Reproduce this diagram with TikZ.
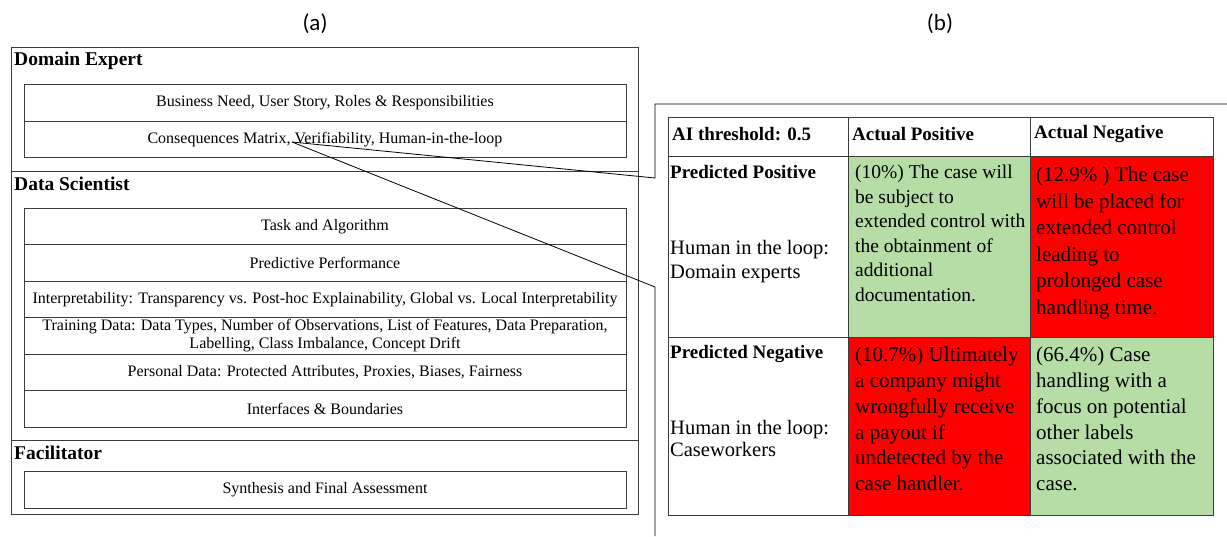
\documentclass[tikz,border=0pt]{standalone}
\usepackage{fontspec}
\setmainfont{Liberation Serif}
\newfontfamily\panelfont{Carlito}
\usetikzlibrary{positioning}
\definecolor{okgreen}{RGB}{182,221,165}
\definecolor{badred}{RGB}{255,0,0}
\definecolor{rule}{RGB}{60,60,60}

\begin{document}
\begin{tikzpicture}[
        x=1pt, y=-1pt,
        frame/.style={draw=rule, line width=1pt},
        row/.style={draw=rule, line width=1pt, minimum width=602pt, minimum height=36.5pt,
            inner sep=0pt, outer sep=0pt, align=center, font=\fontsize{16}{17}\selectfont},
        role/.style={anchor=west, inner sep=0pt, font=\fontsize{19.5}{22}\selectfont\bfseries},
        panel/.style={inner sep=0pt, font=\panelfont\fontsize{23}{26}\selectfont},
        head/.style={anchor=west, inner sep=0pt, font=\fontsize{19}{22}\selectfont\bfseries},
        cell/.style={anchor=north west, inner sep=0pt, align=left},
        zoomline/.style={draw=black, line width=0.8pt},
    ]
    \useasboundingbox (0,0) rectangle (1227,536);
    % panel titles
    \node[panel] (pa) at (315,24) {(a)};
    \node[panel] (pb) at (940,24) {(b)};

    % (a) roles and their topics
    \draw[frame] (11,47) rectangle (638,514);
    \draw[frame] (11,171) -- (638,171);
    \draw[frame] (11,440) -- (638,440);
    \node[role] (expert) at (14,61) {Domain Expert};
    \node[role] (scientist) at (14,184) {Data Scientist};
    \node[role] (facil) at (14,453) {Facilitator};

    \node[row] (need) at (325,103) {Business Need, User Story, Roles \& Responsibilities};
    \node[row, below=0pt of need] (matrix) {Consequences Matrix, Verifiability, Human-in-the-loop};

    \node[row] (task) at (325,226.5) {Task and Algorithm};
    \node[row, below=0pt of task] (perf) {Predictive Performance};
    \node[row, below=0pt of perf] (interp) {Interpretability: Transparency vs. Post-hoc Explainability, Global vs. Local Interpretability};
    \node[row, below=0pt of interp, font=\fontsize{16}{18}\selectfont] (train) {Training Data: Data Types, Number of Observations, List of Features, Data Preparation,\\Labelling, Class Imbalance, Concept Drift};
    \node[row, below=0pt of train] (personal) {Personal Data: Protected Attributes, Proxies, Biases, Fairness};
    \node[row, below=0pt of personal] (iface) {Interfaces \& Boundaries};

    \node[row] (synth) at (325,490) {Synthesis and Final Assessment};

    % callout from the matrix row
    \coordinate (src) at (292,142);
    \coordinate (zt) at (655,178);
    \coordinate (zb) at (655,287);
    \coordinate (ztop) at (655,104);
    \coordinate (zright) at (1227,104);
    \coordinate (zbot) at (655,536);
    \draw[zoomline] (src) -- (zt) -- (ztop) -- (zright);
    \draw[zoomline] (src) -- (zb) -- (zbot);

    % (b) consequences matrix
    \fill[okgreen] (848,156) rectangle (1030,337);
    \fill[badred] (1030,156) rectangle (1213,337);
    \fill[badred] (848,337) rectangle (1030,515);
    \fill[okgreen] (1030,337) rectangle (1213,515);
    \draw[frame] (668,117) rectangle (1213,515);
    \draw[frame] (668,156) -- (1213,156);
    \draw[frame] (668,337) -- (1213,337);
    \draw[frame] (848,117) -- (848,515);
    \draw[frame] (1030,117) -- (1030,515);

    \node[head] (thresh) at (672,134) {AI threshold: 0.5};
    \node[head] (apos) at (852,134) {Actual Positive};
    \node[head] (aneg) at (1034,134) {Actual Negative};

    \node[head] (ppos) at (670,172) {Predicted Positive};
    \node[cell, font=\fontsize{20.5}{24}\selectfont] (hilexp) at (670,240) {Human in the loop:\\Domain experts};
    \node[head] (pneg) at (670,354) {Predicted Negative};
    \node[cell, font=\fontsize{20.5}{22}\selectfont] (hilcw) at (670,420) {Human in the loop:\\Caseworkers};

    \node[cell, font=\fontsize{19.5}{24.5}\selectfont] (tp) at (855,165) {(10\%) The case will\\be subject to\\extended control with\\the obtainment of\\additional\\documentation.};
    \node[cell, font=\fontsize{21}{26.5}\selectfont] (fp) at (1036,167) {(12.9\% ) The case\\will be placed for\\extended control\\leading to\\prolonged case\\handling time.};
    \node[cell, font=\fontsize{21}{25.8}\selectfont] (fn) at (855,347) {(10.7\%) Ultimately\\a company might\\wrongfully receive\\a payout if\\undetected by the\\case handler.};
    \node[cell, font=\fontsize{21}{25.8}\selectfont] (tn) at (1036,347) {(66.4\%) Case\\handling with a\\focus on potential\\other labels\\associated with the\\case.};
\end{tikzpicture}
\end{document}
